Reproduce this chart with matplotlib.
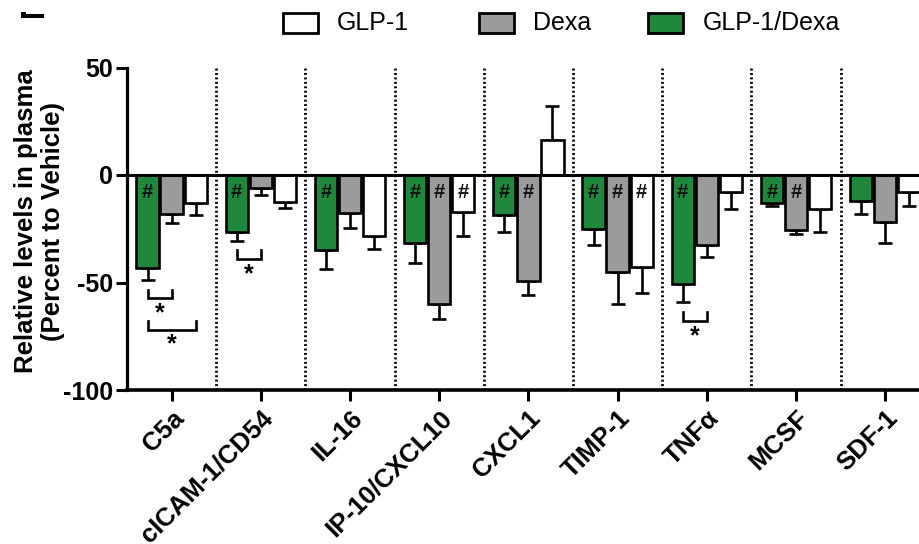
import matplotlib
matplotlib.use('Agg')
import matplotlib.pyplot as plt
import numpy as np
from matplotlib.patches import Rectangle
from matplotlib.transforms import ScaledTranslation

plt.rcParams['font.family'] = ['Liberation Sans', 'DejaVu Sans']

categories = ['C5a', 'cICAM-1/CD54', 'IL-16', 'IP-10/CXCL10', 'CXCL1',
              'TIMP-1', 'TNFα', 'MCSF', 'SDF-1']
series_names = ['GLP-1/Dexa', 'Dexa', 'GLP-1']
combo = [-43.3, -26.3, -35.0, -31.5, -18.7, -24.9, -50.8, -12.9, -12.1]
combo_err = [5.6, 4.3, 8.8, 9.3, 8.0, 7.8, 8.5, 1.5, 6.2]
dexa = [-18.3, -5.9, -17.5, -60.0, -49.2, -44.9, -32.7, -25.5, -21.7]
dexa_err = [3.9, 3.5, 7.0, 7.0, 6.5, 15.0, 5.4, 2.0, 9.7]
glp1 = [-13.2, -12.4, -28.3, -17.0, 16.5, -43.0, -7.7, -15.9, -7.7]
glp1_err = [5.6, 2.8, 6.2, 11.3, 15.5, 12.0, 8.2, 10.4, 6.7]
# '#' markers (vs vehicle) per series
hash_combo = [1, 1, 1, 1, 1, 1, 1, 1, 0]
hash_dexa = [0, 0, 0, 1, 1, 1, 0, 1, 0]
hash_glp1 = [0, 0, 0, 1, 0, 1, 0, 0, 0]
# '*' comparisons: (category index, series a, series b)
sig_pairs = [(0, 0, 1), (0, 0, 2), (1, 0, 1), (6, 0, 1)]

colors = ['#20883d', '#9b9b9b', '#ffffff']
values = [combo, dexa, glp1]
errors = [combo_err, dexa_err, glp1_err]
hashes = [hash_combo, hash_dexa, hash_glp1]

W, H = 920, 544
fig = plt.figure(figsize=(W / 100, H / 100), dpi=100)
left_px, right_px = 127, 127 + 10 * 89.2
bot_px, top_px = 390, 67.5
ax = fig.add_axes([left_px / W, 1 - bot_px / H, (right_px - left_px) / W, (bot_px - top_px) / H])

x = np.arange(len(categories))
step = 0.27
width = 0.25
lw = 1.9
for j in range(3):
    xs = x + (j - 1) * step
    v = np.array(values[j])
    e = np.array(errors[j])
    ax.bar(xs, v, width=width, color=colors[j], edgecolor='black', linewidth=lw, zorder=3)
    lower = np.where(v < 0, e, 0)
    upper = np.where(v >= 0, e, 0)
    ax.errorbar(xs, v, yerr=[lower, upper], fmt='none', ecolor='black',
                elinewidth=lw, capsize=4.8, capthick=lw, zorder=2)
    for i in range(len(categories)):
        if hashes[j][i]:
            ax.text(xs[i], -8.0, '#', ha='center', va='center', fontsize=14.5,
                    fontweight='bold', color='#111111', zorder=5)

# significance brackets
lowest = {}
for (c, a, b) in sig_pairs:
    ends = [values[k][c] - errors[k][c] for k in range(3)]
    base = min(ends) - 8.5
    n = lowest.get(c, 0)
    yb = base - 14.5 * n
    lowest[c] = n + 1
    xa = c + (a - 1) * step
    xb = c + (b - 1) * step
    ax.plot([xa, xa, xb, xb], [yb + 4, yb, yb, yb + 4], color='black', lw=1.9, zorder=4,
            solid_joinstyle='miter')
    ax.text((xa + xb) / 2, yb - 7, '*', ha='center', va='center', fontsize=18,
            fontweight='bold')

# dotted separators
for i in range(len(categories)):
    ax.plot([i + 0.5, i + 0.5], [-100, 50], color='black', lw=2.0,
            linestyle=(0, (0.7, 0.9)), zorder=1)

ax.axhline(0, color='black', lw=2.2, zorder=4)

ax.set_xlim(-0.5, 9.5)
ax.set_ylim(-100, 50)
ax.set_yticks([-100, -50, 0, 50])
ax.set_yticklabels(['-100', '-50', '0', '50'])
ax.set_xticks(x)
ax.set_xticklabels(categories, rotation=45, ha='right', va='top', rotation_mode='anchor',
                   fontweight='bold', fontsize=18.5)
off = ScaledTranslation(-3 / 100, 0, fig.dpi_scale_trans)
for lab in ax.get_xticklabels():
    lab.set_transform(lab.get_transform() + off)
for lab in ax.get_yticklabels():
    lab.set_fontweight('bold')
    lab.set_fontsize(18)
ax.tick_params(axis='x', length=8, width=2.2, pad=3.5)
ax.tick_params(axis='y', length=8, width=2.2, pad=2)
for s in ['top', 'right']:
    ax.spines[s].set_visible(False)
ax.spines['left'].set_linewidth(2.3)
ax.spines['bottom'].set_linewidth(2.6)
ax.set_ylabel('Relative levels in plasma\n(Percent to Vehicle)', fontsize=18.5,
              fontweight='bold', linespacing=1.15)
ax.yaxis.set_label_coords((65 - left_px) / (right_px - left_px), 0.5225)

# legend (manual, figure pixel coordinates)
leg_items = [('GLP-1', colors[2], 283, 337), ('Dexa', colors[1], 479, 533),
             ('GLP-1/Dexa', colors[0], 648, 703)]
for name, col, bx, tx in leg_items:
    fig.add_artist(Rectangle((bx / W, 1 - 33 / H), 35 / W, 20 / H, facecolor=col,
                             edgecolor='black', linewidth=2.0, transform=fig.transFigure))
    fig.text(tx / W, 1 - 23 / H, name, ha='left', va='center', fontsize=18)

# cropped panel letter fragment in the top-left corner
fig.add_artist(Rectangle((20.7 / W, 1 - 18.3 / H), 23.3 / W, 4.3 / H, facecolor='black',
                         edgecolor='none', transform=fig.transFigure))
fig.add_artist(Rectangle((20.7 / W, 1 - 18.3 / H), 5.3 / W, 6.6 / H, facecolor='black',
                         edgecolor='none', transform=fig.transFigure))

fig.savefig('out.png', dpi=100)
